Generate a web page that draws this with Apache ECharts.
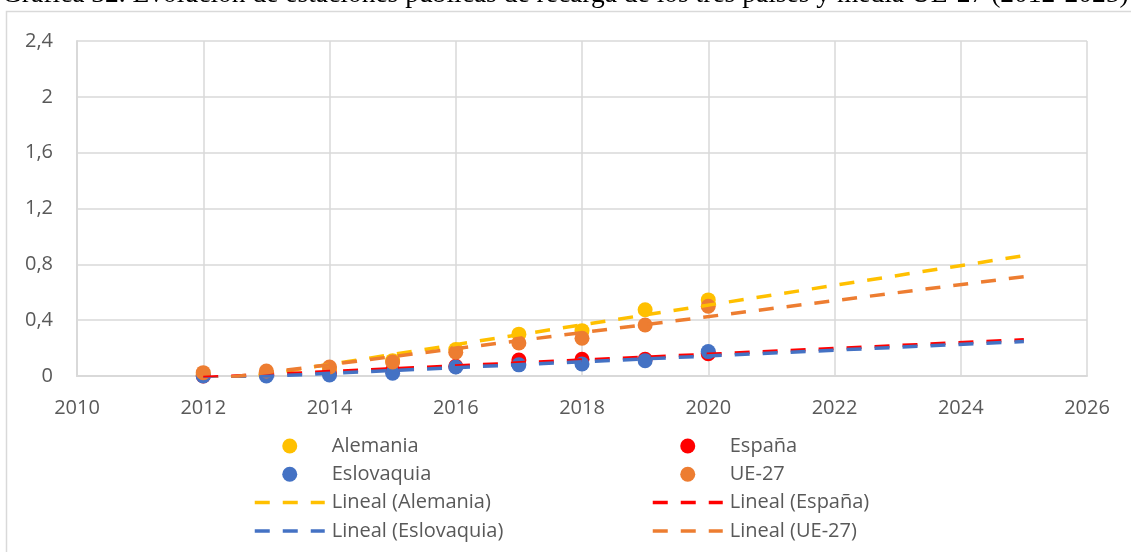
<!DOCTYPE html>
<html>
<head>
<meta charset="utf-8">
<script src="https://cdn.jsdelivr.net/npm/echarts@6/dist/echarts.min.js"></script>
<style>
  html, body { margin: 0; padding: 0; background: #ffffff; }
  #chart { width: 1131px; height: 552px; }
</style>
</head>
<body>
<div id="chart"></div>
<script>
// Estaciones públicas de recarga (por cada 1.000 habitantes), 2012-2020
const years = [2012, 2013, 2014, 2015, 2016, 2017, 2018, 2019, 2020];
const alemania   = [0.01, 0.02, 0.05, 0.11, 0.19, 0.30, 0.325, 0.475, 0.545];
const espana     = [0.00, 0.01, 0.02, 0.04, 0.07, 0.115, 0.12, 0.12, 0.16];
const eslovaquia = [0.00, 0.00, 0.007, 0.02, 0.064, 0.08, 0.086, 0.11, 0.175];
const ue27       = [0.024, 0.036, 0.064, 0.10, 0.17, 0.236, 0.27, 0.365, 0.50];

// Tendencia lineal (mínimos cuadrados) proyectada hasta 2025
const trendFrom = 2012;
const trendTo = 2025;

const titleText = 'Gráfica 32. Evolución de estaciones públicas de recarga de los tres países y media UE-27 (2012-2025)';
const yTicks = { min: 0, max: 2.4, step: 0.4 };
const xTicks = { min: 2010, max: 2026, step: 2 };

const COLORS = {
  alemania: '#FFC000',
  espana: '#FF0000',
  eslovaquia: '#4472C4',
  ue27: '#ED7D31'
};

function pairs(xs, ys) {
  return xs.map((x, i) => [x, ys[i]]);
}

function linearTrend(xs, ys) {
  const n = xs.length;
  const mx = xs.reduce((a, b) => a + b, 0) / n;
  const my = ys.reduce((a, b) => a + b, 0) / n;
  let sxy = 0, sxx = 0;
  for (let i = 0; i < n; i++) {
    sxy += (xs[i] - mx) * (ys[i] - my);
    sxx += (xs[i] - mx) * (xs[i] - mx);
  }
  const slope = sxy / sxx;
  const at = x => my + slope * (x - mx);
  return [[trendFrom, at(trendFrom)], [trendTo, at(trendTo)]];
}

const FONT = '"Open Sans", "Noto Sans", sans-serif';
const TEXT_COLOR = '#595959';
const GRID_COLOR = '#D9D9D9';

function scatter(name, values, color) {
  return {
    name: name,
    type: 'scatter',
    data: pairs(years, values),
    symbol: 'circle',
    symbolSize: 15,
    itemStyle: { color: color, opacity: 1 },
    emphasis: { disabled: true },
    z: 2
  };
}

function trend(name, values, color) {
  return {
    name: name,
    type: 'line',
    data: linearTrend(years, values),
    showSymbol: false,
    symbol: 'none',
    clip: true,
    lineStyle: { color: color, width: 3.5, type: [15, 13], cap: 'butt' },
    itemStyle: { color: color },
    emphasis: { disabled: true },
    z: 3
  };
}

// Trend entries in the legend show only the dashed stroke
const lineEntry = name => ({ name: name, itemStyle: { opacity: 0 } });
const dotEntry = name => ({ name: name, icon: 'circle' });

const chart = echarts.init(document.getElementById('chart'), null, { renderer: 'canvas' });

const legendCommon = {
  orient: 'vertical',
  padding: 0,
  itemWidth: 70,
  itemHeight: 15,
  itemGap: 8.3,
  symbolKeepAspect: true,
  selectedMode: false,
  textStyle: { color: TEXT_COLOR, fontFamily: FONT, fontSize: 20, padding: [0, 0, 0, 2] },
  lineStyle: { width: 3.5 }
};

chart.setOption({
  animation: false,
  backgroundColor: '#ffffff',
  textStyle: { fontFamily: FONT },
  graphic: [
    {
      type: 'rect',
      shape: { x: 6.5, y: 11.5, width: 1300, height: 700 },
      style: { fill: 'none', stroke: GRID_COLOR, lineWidth: 1.5 },
      silent: true
    },
    {
      type: 'text',
      x: 2,
      y: -5,
      style: {
        text: titleText,
        font: '27.5px "Liberation Serif", "DejaVu Serif", serif',
        fill: '#000000',
        verticalAlign: 'middle',
        align: 'left'
      },
      silent: true
    }
  ],
  grid: { left: 77, right: 44, top: 41, bottom: 176, containLabel: false },
  xAxis: {
    type: 'value',
    min: xTicks.min,
    max: xTicks.max,
    interval: xTicks.step,
    axisLine: { show: true, onZero: false, lineStyle: { color: GRID_COLOR, width: 2 } },
    axisTick: { show: false },
    axisLabel: {
      color: TEXT_COLOR, fontSize: 20, fontFamily: FONT, margin: 22,
      formatter: v => String(v)
    },
    splitLine: { show: true, lineStyle: { color: GRID_COLOR, width: 1.5 } }
  },
  yAxis: {
    type: 'value',
    min: yTicks.min,
    max: yTicks.max,
    interval: yTicks.step,
    axisLine: { show: true, lineStyle: { color: GRID_COLOR, width: 2 } },
    axisTick: { show: false },
    axisLabel: {
      color: TEXT_COLOR, fontSize: 20, fontFamily: FONT, margin: 24,
      formatter: v => String(Number(v.toFixed(1))).replace('.', ',')
    },
    splitLine: { show: true, lineStyle: { color: GRID_COLOR, width: 1.5 } }
  },
  legend: [
    Object.assign({}, legendCommon, {
      left: 253,
      top: 436,
      data: [
        dotEntry('Alemania'),
        dotEntry('Eslovaquia'),
        lineEntry('Lineal (Alemania)'),
        lineEntry('Lineal (Eslovaquia)')
      ]
    }),
    Object.assign({}, legendCommon, {
      left: 651,
      top: 436,
      data: [
        dotEntry('España'),
        dotEntry('UE-27'),
        lineEntry('Lineal (España)'),
        lineEntry('Lineal (UE-27)')
      ]
    })
  ],
  series: [
    scatter('Alemania', alemania, COLORS.alemania),
    scatter('España', espana, COLORS.espana),
    scatter('Eslovaquia', eslovaquia, COLORS.eslovaquia),
    scatter('UE-27', ue27, COLORS.ue27),
    trend('Lineal (Alemania)', alemania, COLORS.alemania),
    trend('Lineal (España)', espana, COLORS.espana),
    trend('Lineal (Eslovaquia)', eslovaquia, COLORS.eslovaquia),
    trend('Lineal (UE-27)', ue27, COLORS.ue27)
  ]
});
</script>
</body>
</html>
